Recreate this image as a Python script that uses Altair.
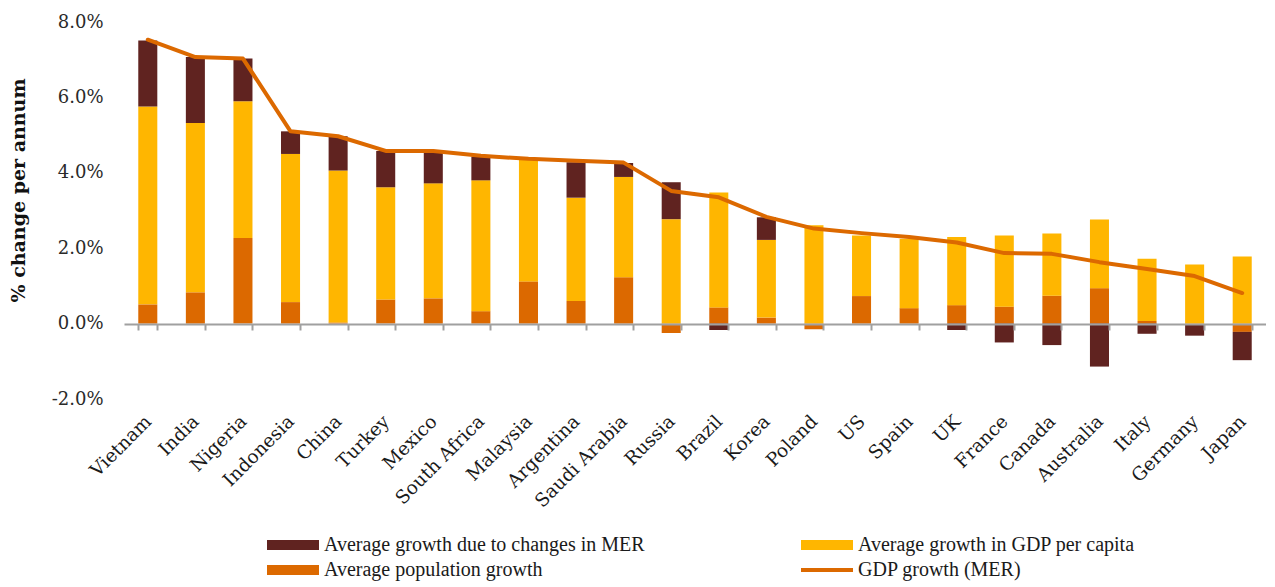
import altair as alt
import pandas as pd

countries = ["Vietnam", "India", "Nigeria", "Indonesia", "China", "Turkey", "Mexico",
             "South Africa", "Malaysia", "Argentina", "Saudi Arabia", "Russia", "Brazil",
             "Korea", "Poland", "US", "Spain", "UK", "France", "Canada", "Australia",
             "Italy", "Germany", "Japan"]

# % change per annum
pop_growth = [0.51, 0.83, 2.27, 0.57, 0.03, 0.64, 0.67, 0.33, 1.12, 0.60, 1.23, -0.25,
              0.43, 0.16, -0.15, 0.73, 0.41, 0.49, 0.45, 0.74, 0.94, 0.07, -0.03, -0.22]
gdp_per_capita = [5.25, 4.49, 3.63, 3.93, 4.03, 2.98, 3.05, 3.47, 3.22, 2.74, 2.66, 2.77,
                  3.05, 2.06, 2.61, 1.61, 1.84, 1.81, 1.89, 1.65, 1.82, 1.65, 1.57, 1.78]
mer_growth = [1.75, 1.75, 1.13, 0.60, 0.91, 0.96, 0.86, 0.63, 0.02, 0.94, 0.37, 0.98,
              -0.17, 0.60, 0.0, 0.0, 0.0, -0.17, -0.50, -0.57, -1.14, -0.27, -0.29, -0.75]
gdp_growth = [7.53, 7.07, 7.03, 5.10, 4.97, 4.58, 4.58, 4.45, 4.37, 4.32, 4.27, 3.52,
              3.35, 2.83, 2.52, 2.40, 2.30, 2.15, 1.87, 1.85, 1.63, 1.45, 1.26, 0.81]

series_names = ["Average growth due to changes in MER", "Average growth in GDP per capita",
                "Average population growth", "GDP growth (MER)"]
series_colors = ["#602320", "#FFB600", "#DC6900", "#DC6900"]
y_ticks = [-2, 0, 2, 4, 6, 8]

rows = []
for i, c in enumerate(countries):
    rows.append({"country": c, "series": series_names[2], "value": pop_growth[i], "ord": 1})
    rows.append({"country": c, "series": series_names[1], "value": gdp_per_capita[i], "ord": 2})
    rows.append({"country": c, "series": series_names[0], "value": mer_growth[i], "ord": 3})
bars_df = pd.DataFrame(rows)
line_df = pd.DataFrame({"country": countries, "gdp": gdp_growth})
legend_df = pd.DataFrame({"series": series_names})

SERIF = "DejaVu Serif"
W, H = 1142, 377

color_scale = alt.Scale(domain=series_names, range=series_colors)
rect_path = "M-2.6,-0.5H2.6V0.5H-2.6Z"
line_path = "M-2.6,-0.2H2.6V0.2H-2.6Z"
shape_scale = alt.Scale(domain=series_names, range=[rect_path, rect_path, rect_path, line_path])

x_scale = alt.Scale(paddingInner=0.6, paddingOuter=0.3)
x_axis = alt.Axis(title=None, labelAngle=-45, labelAlign="right", labelBaseline="middle",
                  labelFont=SERIF, labelFontSize=18.5, labelColor="#1a1a1a",
                  labelPadding=88, tickBand="extent", tickSize=6, tickColor="#a0a0a0",
                  tickWidth=2, domainColor="#a0a0a0", domainWidth=2,
                  offset=-75, zindex=1, labelOverlap=False)
y_scale = alt.Scale(domain=[-2, 8], nice=False, zero=False)
y_axis = alt.Axis(values=y_ticks,
                  labelExpr="(datum.value < 0 ? '-' : '') + format(abs(datum.value), '.1f') + '%'",
                  title="% change per annum", titleFont=SERIF, titleFontSize=19,
                  titleFontWeight="bold", titleColor="#111111", titleX=-106,
                  titleY=168, titleAngle=-90, titleBaseline="middle", titleAlign="center",
                  labelFont=SERIF, labelFontSize=18, labelColor="#2a2a2a",
                  labelPadding=21, ticks=False, domain=False, grid=False)

bars = alt.Chart(bars_df).mark_bar().encode(
    x=alt.X("country:N", sort=countries, scale=x_scale, axis=x_axis),
    y=alt.Y("value:Q", stack="zero", scale=y_scale, axis=y_axis),
    color=alt.Color("series:N", scale=color_scale, legend=None),
    order=alt.Order("ord:Q"),
)

line = alt.Chart(line_df).mark_line(color="#DC6900", strokeWidth=4, strokeCap="round",
                                     strokeJoin="round").encode(
    x=alt.X("country:N", sort=countries, scale=x_scale, axis=x_axis),
    y=alt.Y("gdp:Q", scale=y_scale, axis=y_axis),
)

leg = alt.Legend(title=None, orient="none", legendX=159, legendY=513, columns=2,
                 direction="horizontal",
                 columnPadding=156, rowPadding=5, labelFont="Liberation Serif",
                 labelFontSize=20, labelColor="#1a1a1a", labelOffset=21, symbolSize=400,
                 symbolStrokeWidth=0, padding=0, labelLimit=600)

legend_pts = alt.Chart(legend_df).mark_point(filled=True, clip=True, size=400, opacity=1).encode(
    x=alt.value(-500),
    y=alt.value(-500),
    color=alt.Color("series:N", scale=color_scale, legend=leg),
    shape=alt.Shape("series:N", scale=shape_scale, legend=leg),
)

chart = alt.layer(bars, line, legend_pts).resolve_legend(
    color="independent", shape="independent"
).properties(
    width=W, height=H,
    autosize=alt.AutoSizeParams(type="none"),
    padding={"left": 116, "top": 14, "right": 0, "bottom": 188},
).configure(background="white").configure_view(stroke=None)

chart.save("out.html", embed_options={"renderer": "svg", "actions": False})
